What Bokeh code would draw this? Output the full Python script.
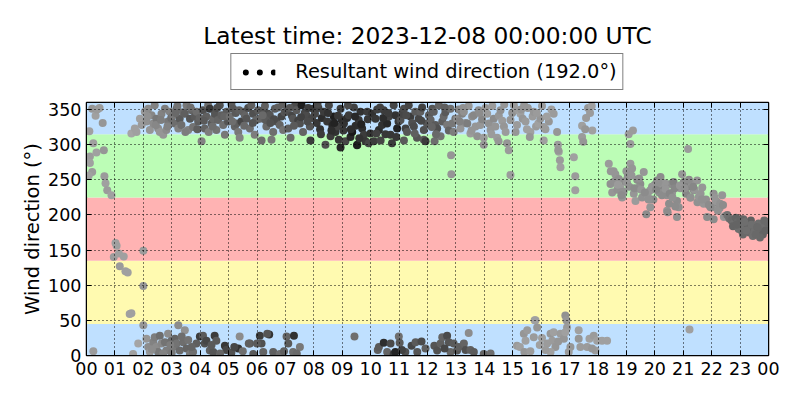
from bokeh.plotting import figure
from bokeh.layouts import column
from bokeh.models import (Range1d, FixedTicker, LinearAxis, CustomJSTickFormatter,
                          ColumnDataSource, Legend, LegendItem, BoxAnnotation)
from bokeh.embed import file_html
from bokeh.resources import INLINE

FONT = "DejaVu Sans"
TITLE = "Latest time: 2023-12-08 00:00:00 UTC"
LEGEND_LABEL = "Resultant wind direction (192.0°)"
Y_LABEL = "Wind direction (°)"

hour_ticks = list(range(25))
hour_labels = ["00", "01", "02", "03", "04", "05", "06", "07", "08", "09", "10", "11",
               "12", "13", "14", "15", "16", "17", "18", "19", "20", "21", "22", "23", "00"]
dir_ticks = [0, 50, 100, 150, 200, 250, 300, 350]

band_lo = [0, 45, 135, 225, 315]
band_hi = [45, 135, 225, 315, 360]
band_colors = ["#bfe0ff", "#fffab0", "#ffb3b3", "#bcfdb6", "#bfe0ff"]

# 00-02 (light grey)
early_hour = [0.20, 0.46, 0.32, 0.57, 0.38, 0.24, 0.12, 0.35, 0.61, 0.12, 0.20, 0.08, 0.63, 0.67, 0.73,
              0.88, 0.10, 0.24, 1.02, 1.06, 0.96, 1.14, 1.31, 1.17, 1.37, 1.45, 1.58, 1.52, 2.00, 2.00,
              2.00, 1.82, 1.64, 1.58, 1.70, 1.88, 1.94, 1.76]
early_dir = [351, 352, 341, 331, 350, 302, 283, 289, 292, 274, 261, 256, 255, 245, 235,
             228, 319, 6, 160, 156, 140, 145, 141, 127, 120, 118, 60, 59, 149, 99,
             43, 17, 2, 316, 323, 337, 328, 318]
early_gray = [150, 155, 160, 150, 155, 160, 155, 160, 150, 160, 155, 160, 155, 160, 155,
              160, 160, 155, 160, 160, 155, 160, 160, 155, 160, 160, 160, 160, 155, 150,
              150, 165, 160, 165, 160, 160, 155, 160]

# 02-15, northerly cluster
upper_hour = [
    2.05, 2.11, 2.17, 2.23, 2.29, 2.35, 2.40, 2.46, 2.52, 2.58, 2.64, 2.70, 2.76, 2.81, 2.87, 2.93, 2.98, 2.15, 2.44, 2.62, 2.85,
    3.05, 3.11, 3.17, 3.23, 3.28, 3.34, 3.40, 3.46, 3.52, 3.58, 3.64, 3.70, 3.75, 3.81, 3.87, 3.93, 3.98, 3.20, 3.48, 3.66, 3.90, 3.14,
    4.05, 4.10, 4.16, 4.22, 4.28, 4.34, 4.40, 4.46, 4.52, 4.57, 4.63, 4.69, 4.75, 4.81, 4.87, 4.93, 4.98, 4.30, 4.60, 4.84, 4.13, 4.44,
    5.04, 5.10, 5.16, 5.22, 5.28, 5.34, 5.39, 5.45, 5.51, 5.57, 5.63, 5.69, 5.75, 5.80, 5.86, 5.92, 5.97, 5.25, 5.55, 5.85, 5.37, 5.13,
    6.04, 6.10, 6.16, 6.22, 6.28, 6.33, 6.39, 6.45, 6.51, 6.57, 6.63, 6.69, 6.74, 6.80, 6.86, 6.92, 6.97, 6.30, 6.60, 6.90, 6.20, 6.47,
    7.04, 7.10, 7.18, 7.23, 7.27, 7.33, 7.39, 7.45, 7.51, 7.57, 7.62, 7.68, 7.74, 7.80, 7.86, 7.88, 7.94, 7.98, 7.30, 7.55, 7.78, 7.15,
    8.04, 8.10, 8.16, 8.22, 8.28, 8.35, 8.41, 8.47, 8.53, 8.59, 8.65, 8.70, 8.76, 8.82, 8.88, 8.94, 8.98, 8.94, 8.25, 8.50, 8.72, 8.13, 8.62, 8.85,
    9.04, 9.06, 9.11, 9.17, 9.23, 9.29, 9.35, 9.41, 9.47, 9.52, 9.53, 9.58, 9.64, 9.70, 9.76, 9.82, 9.88, 9.93, 9.99, 9.20, 9.45, 9.67, 9.90, 9.30, 9.60,
    10.05, 10.11, 10.17, 10.23, 10.29, 10.35, 10.40, 10.46, 10.52, 10.58, 10.64, 10.70, 10.75, 10.81, 10.87, 10.93, 10.98, 10.20, 10.44, 10.62, 10.90, 10.33,
    11.05, 11.11, 11.17, 11.17, 11.23, 11.28, 11.34, 11.40, 11.46, 11.52, 11.57, 11.63, 11.69, 11.75, 11.81, 11.87, 11.87, 11.93, 11.98, 11.25, 11.55, 11.78,
    12.05, 12.11, 12.17, 12.22, 12.25, 12.28, 12.34, 12.40, 12.46, 12.52, 12.57, 12.63, 12.69, 12.75, 12.81, 12.83, 12.92, 12.98, 12.30, 12.60, 12.84, 12.87, 12.15,
    13.04, 13.10, 13.16, 13.22, 13.28, 13.34, 13.40, 13.45, 13.51, 13.57, 13.63, 13.69, 13.75, 13.80, 13.86, 13.92, 13.98, 13.98, 13.25, 13.55, 13.83, 13.13,
    14.04, 14.10, 14.16, 14.22, 14.28, 14.33, 14.39, 14.45, 14.51, 14.57, 14.63, 14.69, 14.75, 14.80, 14.86, 14.92, 14.98, 14.50, 14.25, 14.70, 14.92,
]
upper_dir = [
    347, 333, 351, 321, 342, 330, 356, 337, 323, 318, 344, 314, 351, 321, 333, 347, 338, 340, 328, 335, 326,
    342, 330, 351, 323, 337, 328, 346, 344, 356, 321, 337, 349, 325, 340, 347, 333, 338, 355, 318, 353, 322, 345,
    305, 349, 323, 340, 356, 351, 330, 337, 344, 321, 335, 356, 342, 328, 314, 347, 333, 318, 352, 340, 334, 326,
    340, 358, 351, 326, 330, 318, 310, 333, 347, 342, 337, 352, 323, 356, 344, 314, 335, 345, 327, 331, 349, 333,
    349, 337, 306, 349, 355, 326, 344, 342, 307, 318, 351, 333, 353, 328, 340, 321, 346, 335, 336, 357, 342, 331,
    347, 323, 310, 341, 337, 355, 349, 334, 330, 356, 318, 345, 342, 352, 326, 306, 338, 351, 327, 339, 333, 352,
    344, 331, 352, 322, 338, 347, 300, 333, 356, 312, 327, 340, 318, 326, 307, 351, 335, 296, 315, 345, 331, 358, 320, 341,
    320, 330, 305, 338, 342, 311, 318, 353, 327, 299, 300, 335, 347, 323, 314, 305, 347, 302, 316, 356, 340, 329, 336, 322, 309,
    344, 305, 337, 350, 321, 306, 328, 349, 315, 330, 340, 314, 302, 356, 342, 323, 333, 316, 338, 345, 311, 353,
    335, 344, 351, 306, 323, 318, 356, 340, 331, 326, 347, 310, 337, 347, 353, 321, 307, 305, 330, 342, 316, 334,
    342, 335, 351, 347, 305, 328, 323, 356, 312, 333, 340, 346, 328, 320, 351, 285, 318, 337, 315, 353, 258, 330, 325,
    337, 350, 323, 344, 347, 331, 330, 355, 316, 340, 342, 326, 312, 349, 328, 336, 300, 310, 352, 320, 345, 333,
    352, 344, 330, 321, 355, 337, 326, 310, 341, 349, 334, 326, 318, 302, 292, 335, 345, 305, 315, 357, 257,
]
upper_gray = [
    150, 145, 140, 150, 135, 140, 130, 120, 140, 150, 130, 150, 125, 140, 120, 130, 110, 145, 135, 125, 130,
    120, 110, 100, 130, 90, 110, 105, 95, 120, 130, 85, 100, 115, 90, 110, 95, 100, 115, 125, 110, 95, 105,
    130, 80, 100, 95, 110, 55, 90, 105, 85, 115, 100, 80, 95, 110, 120, 90, 85, 125, 75, 100, 90, 110,
    110, 90, 85, 100, 95, 120, 130, 70, 90, 100, 85, 75, 110, 95, 80, 125, 100, 90, 105, 85, 95, 110,
    90, 100, 110, 80, 95, 105, 75, 85, 120, 110, 90, 80, 95, 100, 70, 115, 85, 90, 75, 95, 105, 80,
    80, 95, 105, 70, 85, 75, 90, 65, 80, 30, 100, 70, 75, 60, 85, 60, 70, 55, 90, 65, 75, 85,
    70, 55, 65, 50, 45, 60, 80, 55, 70, 60, 40, 30, 50, 65, 55, 60, 45, 40, 60, 50, 35, 75, 45, 55,
    55, 50, 70, 45, 60, 40, 25, 65, 45, 40, 30, 55, 50, 45, 60, 55, 60, 70, 50, 75, 40, 35, 55, 45, 50,
    50, 60, 55, 65, 45, 70, 50, 60, 55, 40, 65, 55, 60, 70, 50, 35, 55, 65, 45, 60, 55, 65,
    80, 70, 75, 90, 65, 85, 70, 60, 80, 75, 90, 85, 70, 95, 65, 80, 90, 60, 85, 75, 95, 70,
    90, 100, 85, 95, 110, 90, 80, 100, 115, 95, 105, 90, 120, 100, 110, 150, 125, 115, 105, 95, 150, 120, 100,
    140, 135, 150, 130, 145, 140, 125, 150, 155, 140, 135, 150, 145, 140, 150, 135, 150, 155, 145, 150, 140, 130,
    150, 155, 145, 150, 155, 140, 150, 155, 150, 145, 155, 150, 155, 150, 155, 150, 145, 150, 155, 150, 155,
]

# 15-18 northerly points (light grey)
late_hour = [15.04, 15.10, 15.19, 15.27, 15.35, 15.45, 15.53, 15.62, 15.70, 15.74, 15.82, 15.90, 15.97, 16.03, 16.09,
             16.15, 16.27, 16.36, 16.44, 16.56, 16.59, 16.62, 16.66, 16.68, 16.60, 17.15, 17.20, 17.20, 17.44, 17.48,
             17.44, 17.58, 17.80, 17.65, 17.72, 17.78, 17.55, 16.09, 16.20, 15.60, 15.15, 15.30, 15.50, 15.85, 15.40]
late_dir = [356, 318, 349, 344, 337, 333, 352, 318, 340, 347, 326, 330, 337, 355, 306,
            322, 333, 350, 344, 318, 300, 290, 278, 268, 292, 282, 255, 235, 311, 304,
            327, 338, 320, 352, 345, 355, 322, 325, 340, 311, 328, 350, 322, 345, 356]
late_gray = [155, 150, 155, 160, 150, 155, 150, 160, 155, 150, 155, 160, 150, 155, 160,
             155, 150, 160, 155, 150, 155, 160, 155, 160, 150, 160, 155, 160, 155, 150,
             160, 155, 160, 150, 155, 160, 150, 155, 160, 150, 155, 150, 160, 155, 150]

# 18-22.5 veering band (mid grey)
veer_hour = [18.38, 18.61, 18.44, 18.50, 18.79, 18.73, 18.85, 18.95, 19.00, 19.14,
             19.20, 19.05, 19.26, 19.32, 19.49, 19.61, 19.55, 19.84, 19.70, 19.84,
             20.08, 20.20, 20.26, 20.31, 20.43, 20.55, 20.66, 20.61, 20.78, 20.84,
             20.43, 20.50, 20.78, 20.96, 21.02, 21.15, 21.31, 21.49, 21.37, 21.61,
             21.50, 21.72, 21.84, 22.02, 22.07, 22.37, 22.19, 22.28, 22.43, 19.08,
             19.23, 19.14, 21.17, 19.40, 19.75, 20.00, 20.15, 20.90, 21.25, 21.80,
             22.15, 18.90, 19.95, 20.35, 21.10, 21.26, 21.67, 21.96, 22.30, 22.07,
             22.49, 20.45, 18.55, 18.68, 19.38, 20.70, 21.40,
             18.45, 18.58, 18.70, 18.82, 19.02, 19.10, 19.18, 19.28, 19.45, 19.52,
             19.65, 19.78, 19.90, 20.05, 20.12, 20.25, 20.38, 20.52, 20.62, 20.72,
             20.88, 21.05, 21.20, 21.35, 21.55, 21.65, 21.90, 22.10, 22.22, 22.40]
veer_dir = [273, 258, 244, 232, 239, 251, 225, 248, 262, 273,
            266, 255, 230, 220, 244, 261, 225, 211, 201, 235,
            249, 254, 242, 235, 228, 244, 247, 232, 220, 211,
            206, 216, 197, 258, 247, 240, 244, 249, 235, 230,
            218, 216, 197, 211, 230, 228, 218, 210, 197, 315,
            320, 301, 294, 238, 228, 243, 232, 238, 225, 222,
            220, 233, 222, 245, 230, 225, 239, 211, 216, 194,
            199, 204, 262, 236, 250, 238, 236,
            262, 248, 243, 228, 246, 240, 256, 238, 252, 236,
            232, 222, 240, 236, 246, 228, 237, 230, 225, 212,
            242, 238, 250, 240, 226, 222, 214, 225, 206, 214]
veer_gray = [155, 150, 145, 150, 155, 145, 150, 140, 150, 155,
             150, 145, 150, 155, 140, 150, 145, 150, 140, 150,
             135, 140, 150, 130, 145, 140, 130, 150, 140, 145,
             150, 140, 145, 150, 140, 130, 145, 150, 140, 150,
             145, 150, 140, 150, 145, 150, 140, 145, 150, 155,
             155, 155, 155, 145, 150, 140, 145, 150, 140, 145,
             150, 145, 140, 150, 135, 145, 150, 140, 145, 140,
             145, 140, 150, 145, 140, 135, 150,
             150, 145, 155, 140, 150, 145, 150, 140, 145, 150,
             140, 145, 150, 135, 145, 140, 150, 135, 145, 140,
             150, 145, 140, 135, 150, 145, 140, 150, 145, 140]

# 22.5-24 southerly cluster (darker grey)
south_hour = [22.55, 22.62, 22.70, 22.78, 22.85, 22.92, 23.00, 23.05, 23.12, 23.18,
              23.25, 23.32, 23.38, 23.45, 23.52, 23.58, 23.65, 23.72, 23.80, 23.88,
              23.95, 22.75, 22.95, 23.10, 23.30, 23.50, 23.70, 23.90, 23.40, 23.60,
              23.02, 23.22, 23.85, 22.88, 23.15, 23.55]
south_dir = [200, 195, 192, 188, 196, 190, 185, 178, 194, 182,
             187, 175, 192, 170, 184, 178, 188, 180, 172, 185,
             190, 184, 180, 172, 182, 176, 168, 178, 186, 183,
             194, 178, 192, 186, 190, 172]
south_gray = [115, 110, 105, 110, 100, 105, 110, 100, 105, 110,
              100, 105, 95, 110, 105, 100, 110, 105, 100, 110,
              105, 100, 110, 105, 100, 110, 105, 100, 110, 105,
              100, 110, 105, 100, 110, 105]

# 02-08 near-north points at the bottom of the axis
lower_hour = [2.11, 2.17, 2.23, 2.35, 2.40, 2.46, 2.52, 2.58, 2.64, 2.76,
              2.87, 2.81, 2.99, 3.05, 3.11, 3.17, 3.23, 3.28, 3.40, 3.46,
              3.52, 3.64, 3.75, 3.87, 3.99, 4.10, 4.16, 4.22, 4.34, 4.46,
              4.51, 4.57, 4.87, 4.92, 5.39, 5.34, 5.75, 5.87, 6.10, 6.16,
              6.22, 6.43, 6.57, 6.80, 7.04, 7.10, 7.30, 7.51, 7.27,
              2.30, 2.70, 3.00, 3.35, 3.58, 2.95, 3.70, 4.40, 4.70, 5.10, 5.50, 5.20, 6.95, 7.40,
              5.71, 6.00, 6.36]
lower_dir = [24, 12, 5, 19, 26, 12, 5, 28, 17, 19,
             31, 7, 21, 12, 24, 17, 43, 7, 19, 36,
             10, 2, 5, 17, 27, 28, 17, 21, 7, 5,
             28, 21, 14, 8, 27, 10, 17, 2, 28, 17,
             5, 30, 5, 2, 27, 17, 28, 12, 5,
             9, 3, 4, 27, 22, 15, 12, 15, 3, 4, 6, 12, 6, 3,
             17, 17, 31]
lower_gray = [150, 140, 150, 130, 125, 140, 120, 110, 135, 115,
              140, 125, 110, 120, 100, 115, 140, 105, 110, 145,
              100, 120, 110, 95, 60, 90, 80, 70, 95, 85,
              60, 90, 55, 70, 140, 50, 85, 90, 60, 80,
              100, 50, 95, 110, 100, 90, 50, 120, 110,
              140, 130, 120, 110, 115, 125, 100, 90, 100, 80, 110, 70, 95, 105,
              95, 90, 85]

# 09-14 near-north points at the bottom of the axis
mid_low_hour = [9.43, 10.25, 10.29, 10.46, 10.58, 10.70, 10.81, 10.87, 10.99, 11.02,
                11.22, 11.44, 11.58, 11.64, 11.79, 11.93, 12.24, 12.34, 12.46, 12.52,
                12.69, 12.75, 12.81, 12.92, 13.04, 13.10, 13.28, 13.34, 13.45, 13.51,
                13.63, 13.98, 14.22, 12.60, 11.10]
mid_low_dir = [27, 8, 12, 18, 5, 17, 2, 5, 27, 18,
               5, 14, 19, 5, 20, 10, 14, 7, 17, 26,
               28, 19, 5, 17, 7, 12, 17, 8, 32, 8,
               5, 2, 3, 10, 8]
mid_low_gray = [110, 95, 90, 45, 100, 75, 60, 35, 110, 90,
                80, 70, 90, 85, 75, 95, 85, 80, 95, 100,
                75, 85, 100, 90, 85, 95, 100, 80, 140, 95,
                90, 100, 110, 70, 65]

# 15-18.5 and 21 near-north points (light grey)
pm_low_hour = [15.15, 15.25, 15.39, 15.51, 15.45, 15.41, 15.62, 15.80, 15.86, 15.74,
               16.03, 16.21, 16.33, 16.44, 16.39, 16.50, 16.33, 16.68, 16.80, 16.85,
               16.89, 16.91, 16.85, 17.03, 16.97, 17.32, 17.32, 17.62, 17.70, 17.85,
               17.97, 18.14, 18.32, 17.91, 17.79, 17.38, 15.77, 16.60, 16.15, 15.95,
               21.22]
pm_low_dir = [14, 12, 31, 36, 21, 5, 6, 50, 40, 26,
              25, 17, 31, 33, 21, 12, 5, 31, 24, 57,
              50, 40, 33, 12, 5, 36, 24, 12, 24, 28,
              21, 21, 21, 7, 10, 12, 50, 20, 8, 15,
              37]
pm_low_gray = [155, 160, 150, 155, 160, 150, 155, 160, 150, 155,
               160, 155, 150, 160, 155, 150, 160, 155, 150, 145,
               150, 155, 160, 150, 155, 160, 150, 155, 160, 155,
               160, 160, 160, 155, 150, 155, 160, 150, 155, 160,
               160]

hours = (early_hour + upper_hour + late_hour + veer_hour + south_hour
         + lower_hour + mid_low_hour + pm_low_hour)
dirs = (early_dir + upper_dir + late_dir + veer_dir + south_dir
        + lower_dir + mid_low_dir + pm_low_dir)
grays = (early_gray + upper_gray + late_gray + veer_gray + south_gray
         + lower_gray + mid_low_gray + pm_low_gray)
n = min(len(hours), len(dirs), len(grays))
colors = ["#%02x%02x%02x" % (g, g, g) for g in grays[:n]]
src = ColumnDataSource(dict(hour=hours[:n], direction=dirs[:n], color=colors))

# ---------------- header: title + legend ----------------
head = figure(width=800, height=101, x_range=Range1d(hour_ticks[0], hour_ticks[-1]),
              y_range=Range1d(0, 360), x_axis_type=None, y_axis_type=None,
              output_backend="svg", toolbar_location=None,
              min_border_left=86, min_border_right=32, min_border_top=48, min_border_bottom=0)
head.outline_line_color = None
head.title.text = TITLE
head.title.align = "center"
head.title.text_font = FONT
head.title.text_font_size = "23.3px"
head.title.text_font_style = "normal"
head.title.text_color = "black"
head.title.standoff = 0

# legend key: round-capped zero-length dashes give the three dots
key = head.line(x="hour", y="direction", source=src, line_color="black", line_width=6,
                line_cap="round", line_dash="0 14", line_dash_offset=6, visible=False)
legend = Legend(items=[LegendItem(label=LEGEND_LABEL, renderers=[key])],
                location="bottom_center", orientation="horizontal",
                glyph_width=38, glyph_height=20, label_standoff=20,
                padding=6, margin=11,
                border_line_color="black", border_line_width=1,
                label_text_font=FONT, label_text_font_size="19.4px",
                label_text_color="black", background_fill_alpha=1)
head.add_layout(legend)

# ---------------- main plot ----------------
p = figure(width=800, height=291, x_range=Range1d(hour_ticks[0], hour_ticks[-1]),
           y_range=Range1d(0, 360), output_backend="svg", toolbar_location=None,
           min_border_left=86, min_border_right=32, min_border_bottom=37, min_border_top=1)

for lo, hi, c in zip(band_lo, band_hi, band_colors):
    p.add_layout(BoxAnnotation(bottom=lo, top=hi, fill_color=c, fill_alpha=1.0,
                               line_color=None, level="underlay"))

p.scatter(x="hour", y="direction", source=src, size=8, fill_color="color",
          line_color="color", line_width=0)

xa = p.xaxis[0]
xa.ticker = FixedTicker(ticks=hour_ticks)
xa.major_label_overrides = {t: lab for t, lab in zip(hour_ticks, hour_labels)}
ya = p.yaxis[0]
ya.ticker = FixedTicker(ticks=dir_ticks)
ya.axis_label = Y_LABEL
ya.axis_label_text_font = FONT
ya.axis_label_text_font_size = "19.5px"
ya.axis_label_text_font_style = "normal"
ya.axis_label_text_color = "black"
ya.axis_label_standoff = 1

right = LinearAxis(ticker=FixedTicker(ticks=dir_ticks),
                   formatter=CustomJSTickFormatter(code="return ''"))
p.add_layout(right, "right")
top = LinearAxis(ticker=FixedTicker(ticks=hour_ticks),
                 formatter=CustomJSTickFormatter(code="return ''"))
p.add_layout(top, "above")

for ax in [xa, ya, right, top]:
    ax.major_tick_in = 5
    ax.major_tick_out = 0
    ax.minor_tick_in = 0
    ax.minor_tick_out = 0
    ax.major_tick_line_color = "black"
    ax.axis_line_color = "black"
    ax.axis_line_width = 1
    ax.major_label_text_font = FONT
    ax.major_label_text_font_size = "17.5px"
    ax.major_label_text_color = "black"
xa.major_label_standoff = 6
ya.major_label_standoff = 5
for ax in [right, top]:
    ax.major_label_standoff = 0
    ax.major_label_text_font_size = "1px"

p.xgrid[0].ticker = FixedTicker(ticks=hour_ticks)
p.ygrid[0].ticker = FixedTicker(ticks=dir_ticks)
for g in [p.xgrid[0], p.ygrid[0]]:
    g.grid_line_color = "black"
    g.grid_line_dash = "1 3"
    g.grid_line_width = 1
    g.level = "annotation"

p.outline_line_color = "black"
p.outline_line_width = 1.5
p.background_fill_color = "white"

layout = column(head, p, spacing=0)
open("out.html", "w").write(file_html(layout, INLINE))
